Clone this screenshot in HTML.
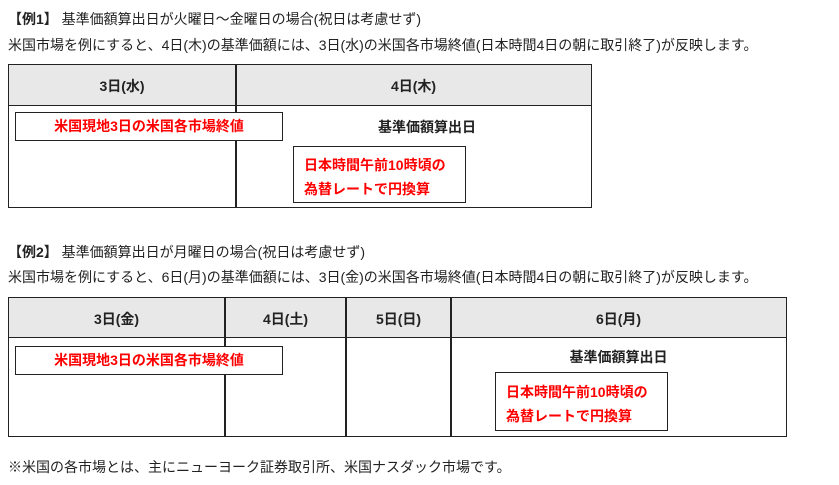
<!DOCTYPE html>
<html><head><meta charset="utf-8"><style>
body{margin:0;width:839px;height:485px;background:#fff;position:relative;font-family:"Liberation Sans","Noto Sans CJK JP",sans-serif;color:#222;overflow:hidden}
.a{position:absolute;white-space:nowrap}
.t{font-size:14px}
.b{border:1.5px solid #222;box-sizing:border-box;position:absolute}
.h{position:absolute;background:#e8e8e8;border-bottom:1.5px solid #222;box-sizing:border-box}
.v{position:absolute;width:1.5px;background:#222}
.c{position:absolute;font-weight:bold;font-size:14px;text-align:center;white-space:nowrap}
.r{color:#f00;font-weight:bold;font-size:14px;background:#fff}
</style></head><body>
<div class="a t" style="left:8px;top:9px"><b>【例1】</b> 基準価額算出日が火曜日～金曜日の場合(祝日は考慮せず)</div>
<div class="a t" style="left:8px;top:35px">米国市場を例にすると、4日(木)の基準価額には、3日(水)の米国各市場終値(日本時間4日の朝に取引終了)が反映します。</div>

<div class="h" style="left:8px;top:64px;width:583px;height:42px"></div>
<div class="b" style="left:8px;top:64px;width:584px;height:144px"></div>
<div class="v" style="left:235px;top:64px;height:144px"></div>
<div class="c" style="left:8px;top:76px;width:228px">3日(水)</div>
<div class="c" style="left:236px;top:76px;width:355px">4日(木)</div>
<div class="b r" style="left:15px;top:112px;width:268px;height:29px;text-align:center;line-height:26px">米国現地3日の米国各市場終値</div>
<div class="c" style="left:236px;top:117px;width:382px">基準価額算出日</div>
<div class="b r" style="left:293px;top:146px;width:173px;height:57px;padding:6px 0 0 10px;line-height:24px">日本時間午前10時頃の<br>為替レートで円換算</div>

<div class="a t" style="left:8px;top:242px"><b>【例2】</b> 基準価額算出日が月曜日の場合(祝日は考慮せず)</div>
<div class="a t" style="left:8px;top:267px">米国市場を例にすると、6日(月)の基準価額には、3日(金)の米国各市場終値(日本時間4日の朝に取引終了)が反映します。</div>

<div class="h" style="left:8px;top:297px;width:778px;height:41px"></div>
<div class="b" style="left:8px;top:297px;width:779px;height:140px"></div>
<div class="v" style="left:224px;top:297px;height:140px"></div>
<div class="v" style="left:345px;top:297px;height:140px"></div>
<div class="v" style="left:450px;top:297px;height:140px"></div>
<div class="c" style="left:8px;top:309px;width:217px">3日(金)</div>
<div class="c" style="left:225px;top:309px;width:121px">4日(土)</div>
<div class="c" style="left:346px;top:309px;width:105px">5日(日)</div>
<div class="c" style="left:451px;top:309px;width:335px">6日(月)</div>
<div class="b r" style="left:15px;top:346px;width:268px;height:29px;text-align:center;line-height:26px">米国現地3日の米国各市場終値</div>
<div class="c" style="left:451px;top:347px;width:335px">基準価額算出日</div>
<div class="b r" style="left:495px;top:372px;width:173px;height:59px;padding:7px 0 0 10px;line-height:24px">日本時間午前10時頃の<br>為替レートで円換算</div>

<div class="a t" style="left:8px;top:457px">※米国の各市場とは、主にニューヨーク証券取引所、米国ナスダック市場です。</div>
</body></html>
